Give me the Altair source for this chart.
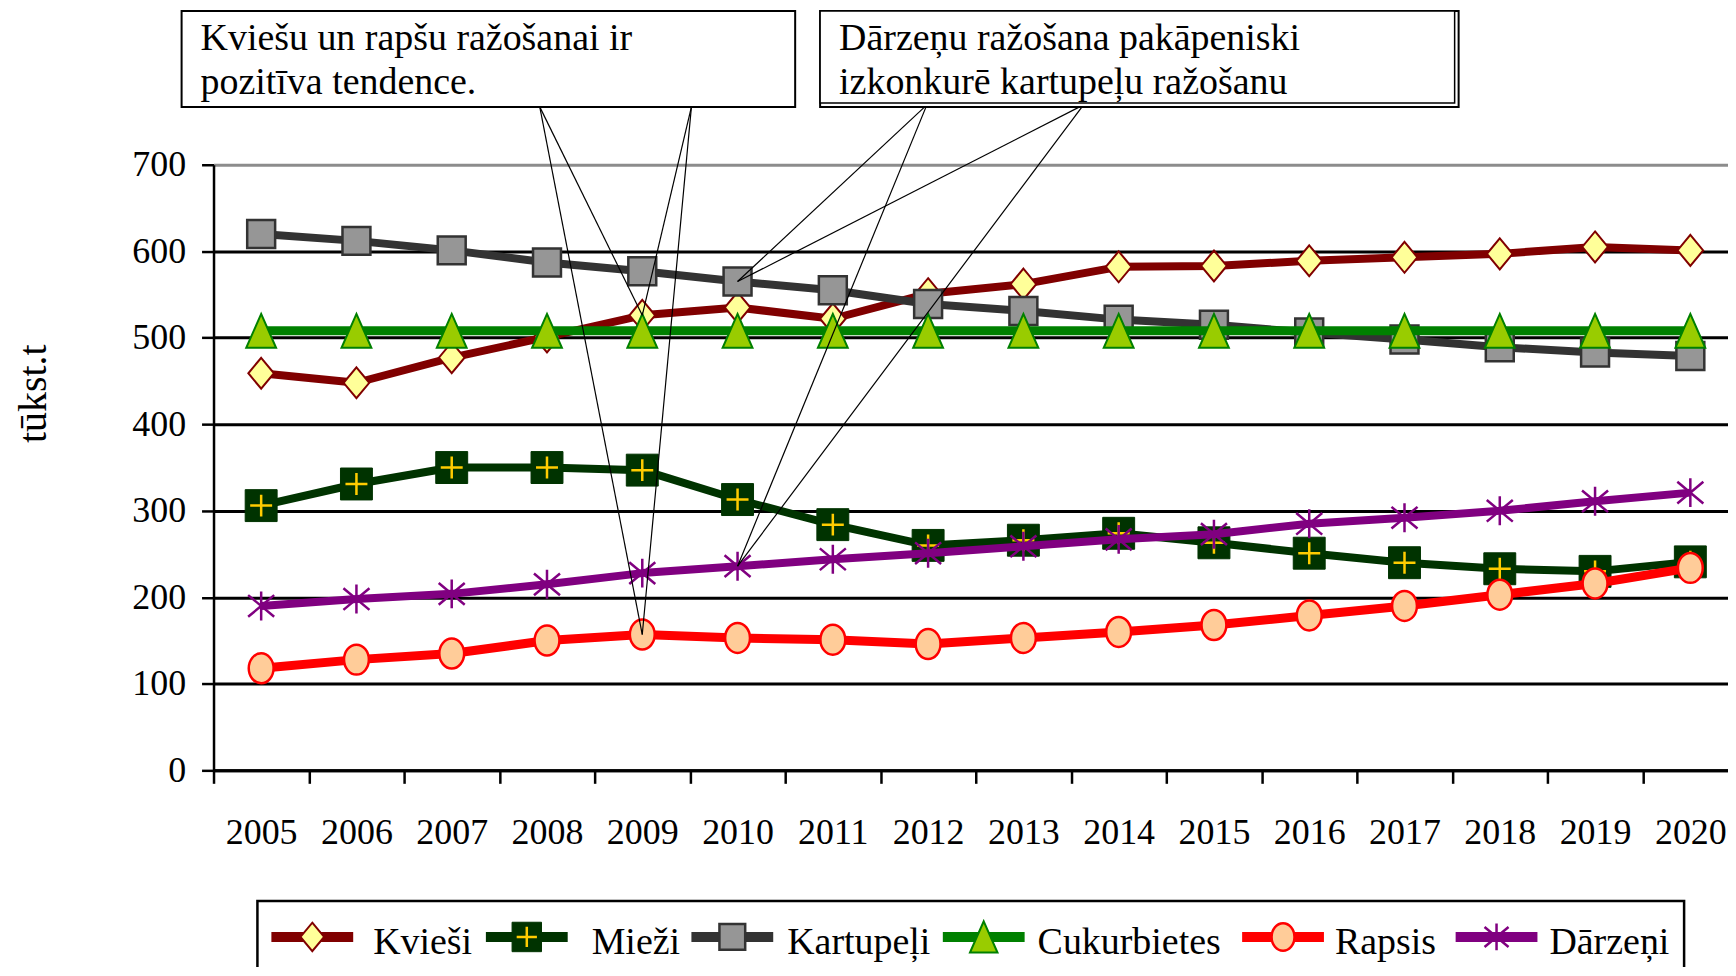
import altair as alt
import pandas as pd

# ---------------- data ----------------
years = [2005, 2006, 2007, 2008, 2009, 2010, 2011, 2012,
         2013, 2014, 2015, 2016, 2017, 2018, 2019, 2020]
kviesi = [459, 448, 477, 501, 526, 535, 522, 551, 562, 582, 583, 589, 593, 597, 605, 601]
miezi = [306, 331, 350, 350, 347, 313, 284, 260, 266, 274, 263, 251, 240, 233, 230, 241]
kartupeli = [620, 612, 601, 587, 577, 565, 555, 539, 531, 521, 515, 506, 498, 489, 483, 479]
cukurbietes = [508, 508, 508, 508, 508, 508, 508, 508, 508, 508, 508, 508, 508, 508, 508, 508]
rapsis = [118, 128, 135, 150, 157, 153, 151, 146, 153, 160, 168, 179, 190, 203, 216, 234]
darzeni = [190, 198, 204, 215, 228, 236, 244, 251, 259, 267, 273, 285, 292, 300, 311, 321]

series_names = ["Kvieši", "Mieži", "Kartupeļi", "Cukurbietes", "Rapsis", "Dārzeņi"]
series_values = [kviesi, miezi, kartupeli, cukurbietes, rapsis, darzeni]

y_ticks = [0, 100, 200, 300, 400, 500, 600, 700]
y_title = "tūkst.t"
note1 = ["Kviešu un rapšu ražošanai ir", "pozitīva tendence."]
note2 = ["Dārzeņu ražošana pakāpeniski", "izkonkurē kartupeļu ražošanu"]

rows = []
for name, vals in zip(series_names, series_values):
    for yr, v in zip(years, vals):
        rows.append({"Year": yr, "Series": name, "Value": v})
df = pd.DataFrame(rows)

# ---------------- styles ----------------
FONT = "Liberation Serif"
W, H = 1518, 607

line_colors = {"Kvieši": "#800000", "Mieži": "#003300", "Kartupeļi": "#333333",
               "Cukurbietes": "#008000", "Rapsis": "#FF0000", "Dārzeņi": "#800080"}
line_widths = {"Kvieši": 8, "Mieži": 8, "Kartupeļi": 8,
               "Cukurbietes": 9, "Rapsis": 9, "Dārzeņi": 8}

DIAMOND = "M0,-1L0.83,0L0,1L-0.83,0Z"
PLUS = "M-1,0L1,0M0,-1L0,1"
TRI = "M0,-1L0.88,1L-0.88,1Z"
ELLIPSE = "M0,-1A0.83,1,0,1,1,0,1A0.83,1,0,1,1,0,-1Z"
ASTER = "M0,-1L0,1M-0.9,-0.75L0.9,0.75M-0.9,0.75L0.9,-0.75"

# marker layers per series: (shape, size, fill, stroke, strokeWidth)
markers = {
    "Kvieši": [(DIAMOND, 961, "#FFFF99", "#800000", 2)],
    "Mieži": [("square", 1024, "#003300", "#003300", 1),
              (PLUS, 484, "transparent", "#FFCC00", 2.5)],
    "Kartupeļi": [("square", 784, "#969696", "#333333", 2.5)],
    "Cukurbietes": [(TRI, 1156, "#99CC00", "#008000", 2)],
    "Rapsis": [(ELLIPSE, 900, "#FFCC99", "#FF0000", 2.5)],
    "Dārzeņi": [(ASTER, 841, "transparent", "#800080", 2.5)],
}

x_axis = alt.Axis(title=None, tickBand="extent", labelFont=FONT, labelFontSize=36,
                  labelColor="black", labelPadding=32, labelAngle=0, tickSize=13,
                  tickColor="black", tickWidth=2.5, domainColor="black", domainWidth=3,
                  grid=False, labelOverlap=False)
y_axis = alt.Axis(values=y_ticks, labelFont=FONT, labelFontSize=36, labelColor="black",
                  labelPadding=16, tickSize=12, tickColor="black", tickWidth=2.5,
                  domainColor="black", domainWidth=2.5, grid=True,
                  gridColor={"condition": {"test": "datum.value === 700", "value": "#8c8c8c"},
                             "value": "black"},
                  gridWidth=3, title=y_title, titleFont=FONT, titleFontSize=40,
                  titleFontWeight="normal", titleColor="black", titleAngle=270,
                  titleX=-168, titleY=229, titleAlign="center", titleBaseline="alphabetic",
                  labelOverlap=False)

x_enc = alt.X("Year:O", sort=years,
              scale=alt.Scale(type="band", domain=years, range=[0, 1528],
                              paddingInner=0, paddingOuter=0),
              axis=x_axis)
y_enc = alt.Y("Value:Q", scale=alt.Scale(domain=[0, 700], nice=False), axis=y_axis)

base = alt.Chart(df)
layers = []
for name in series_names:
    sub = base.transform_filter(alt.datum.Series == name)
    layers.append(sub.mark_line(color=line_colors[name], strokeWidth=line_widths[name],
                                strokeJoin="round").encode(x=x_enc, y=y_enc))
    for shp, size, fill, stroke, sw in markers[name]:
        layers.append(sub.mark_point(shape=shp, size=size, fill=fill, stroke=stroke,
                                     strokeWidth=sw, filled=True, opacity=1,
                                     fillOpacity=1).encode(x=x_enc, y=y_enc))

# ---------------- callouts ----------------
one = alt.Data(values=[{"k": 1}])


def tips(pairs):
    return pd.DataFrame([{"Year": yr, "Value": series_values[series_names.index(s)][years.index(yr)]}
                         for s, yr in pairs])


tips1 = tips([("Kvieši", 2009), ("Rapsis", 2009)])
tips2 = tips([("Kartupeļi", 2010), ("Dārzeņi", 2010)])
for tdf, bases in [(tips1, [(327, -58), (479, -58)]), (tips2, [(715, -60), (872, -60)])]:
    for bx, by in bases:
        layers.append(alt.Chart(tdf).mark_rule(color="black", strokeWidth=1.2).encode(
            x=x_enc, y=y_enc, x2=alt.value(bx), y2=alt.value(by)))

# boxes
layers.append(alt.Chart(one).mark_rect(fill="white", stroke="black", strokeWidth=2).encode(
    x=alt.value(-32), x2=alt.value(583), y=alt.value(-154), y2=alt.value(-58)))
layers.append(alt.Chart(one).mark_rect(fill="white", stroke="black", strokeWidth=2).encode(
    x=alt.value(608), x2=alt.value(1248), y=alt.value(-154), y2=alt.value(-58)))
layers.append(alt.Chart(one).mark_rect(fill="white", stroke="black", strokeWidth=1.5).encode(
    x=alt.value(608), x2=alt.value(1244), y=alt.value(-154), y2=alt.value(-62)))
for tx, lines in [(-13, note1), (627, note2)]:
    for i, line in enumerate(lines):
        layers.append(alt.Chart(one).mark_text(align="left", baseline="alphabetic", font=FONT,
                                               fontSize=38, color="black").encode(
            x=alt.value(tx), y=alt.value(-115 + 44 * i), text=alt.value(line)))

# ---------------- legend ----------------
layers.append(alt.Chart(one).mark_rect(fill="white", stroke="black", strokeWidth=2.5).encode(
    x=alt.value(44), x2=alt.value(1474), y=alt.value(738), y2=alt.value(900)))
sym_start = [58, 273, 479, 731, 1031, 1245]
lab_start = [160, 379, 575, 826, 1124, 1339]
LEG_Y = 774
for name, sx, lx in zip(series_names, sym_start, lab_start):
    layers.append(alt.Chart(one).mark_rule(color=line_colors[name], strokeWidth=10).encode(
        x=alt.value(sx), x2=alt.value(sx + 82), y=alt.value(LEG_Y)))
    for shp, size, fill, stroke, sw in markers[name]:
        layers.append(alt.Chart(one).mark_point(shape=shp, size=size * 0.85, fill=fill,
                                                stroke=stroke, strokeWidth=sw, filled=True,
                                                opacity=1, fillOpacity=1).encode(
            x=alt.value(sx + 41), y=alt.value(LEG_Y)))
    layers.append(alt.Chart(one).mark_text(align="left", baseline="alphabetic", font=FONT,
                                           fontSize=38, color="black").encode(
        x=alt.value(lx), y=alt.value(791), text=alt.value(name)))

chart = alt.layer(*layers).properties(
    width=W, height=H,
    padding={"left": 206, "top": 156, "right": 0, "bottom": 196},
    autosize=alt.AutoSizeParams(type="none"),
).configure_view(stroke=None)

chart.save("out.html", embed_options={"renderer": "svg", "actions": False})
